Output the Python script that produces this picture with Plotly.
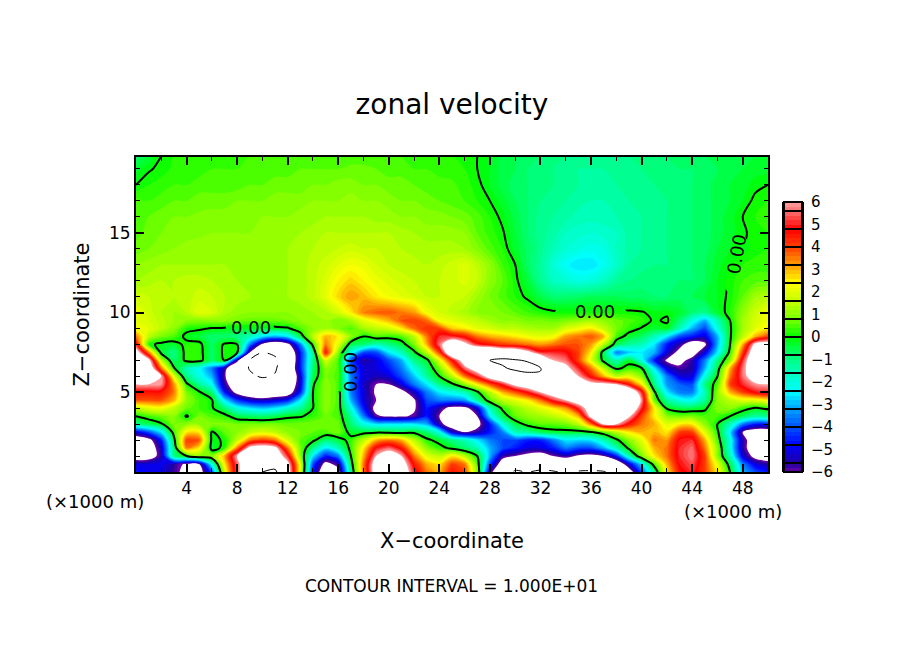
import numpy as np
import plotly.graph_objects as go

x_km = list(range(51))
z_km = [0, 0.5, 1, 1.5, 2, 2.5, 3, 3.5, 4, 4.5, 5, 5.5, 6, 6.5, 7, 7.5, 8, 8.5, 9, 9.5, 10,
        11, 12, 13, 14, 15, 16, 17, 18, 19, 19.8]

u_z00 = [-4.5,-4.8,-5,-5.6,-6.5,-6.8,-4,1.8,5.5,8,10,10.5,7,2,-4.5,-7.5,-6.5,-1,3.5,7,8,7.5,5,3.5,3,4.5,4,1,-5.5,-8,-10.5,-10,-10.5,-10.3,-9.5,-10.2,-10.3,-10.2,-9,-7,-4,-1,2.5,4.5,5,4,2.5,0,-3,-4,-4.5]
u_z05 = [-5,-5,-4.8,-5.5,-6.2,-6,-2,2.5,5.5,8,9.5,9,6.5,2,-4,-6.5,-5.5,-0.5,3.5,7,8,7,4.5,3,2.5,4,3.5,0.5,-4,-7,-8,-8.5,-8.5,-8,-8,-8.5,-8.5,-8,-7.5,-5,-2.5,0.5,3,4.8,5.3,4,2,-0.5,-3.5,-5,-5.5]
u_z10 = [-7,-6.8,-5.5,-1,0,1,0.8,3,6,8,8,7.5,5,1,-2.5,-4.5,-3.5,0,3,6,7,6,3.5,2,1.5,2.5,1.5,0,-3,-5.5,-6,-6.5,-6.8,-6,-5.5,-6.2,-6.5,-6,-4.5,-1.5,0.8,2.5,3.5,5,5.6,4,1,-1.5,-5,-6.5,-6.8]
u_z15 = [-7.5,-7,-5.2,-0.8,3.5,2.5,-0.3,0.2,3.5,6.5,7,6.5,3.5,0.8,-1,-2.5,-1.5,0.3,2.5,4.8,5.5,4.5,2.5,1,0.3,-0.2,-0.8,-1.5,-3,-4,-4.5,-5,-5,-4.5,-3.5,-4,-4,-3,-1.5,0.2,1.5,3,3.5,5,5.5,3.5,1,-2,-5.5,-7,-7.5]
u_z20 = [-7,-6.5,-4.5,-0.3,4,3.8,-0.2,0.1,1.5,3.5,4,3.5,1.8,0.6,0.2,-0.8,-0.4,0.3,1.5,3,3.5,3,1.5,0.2,-0.3,-1,-1.5,-2.5,-3.5,-4,-4,-4.5,-4.5,-3.5,-2.5,-2.6,-2.5,-1.5,-0.2,1,2,3.5,3.2,4.8,5,3,0.5,-2,-5.5,-7,-7.5]
u_z25 = [-5,-4,-2.5,0.4,2.5,2.5,-0.1,0.6,1,1.5,1.8,1.5,1,0.8,0.6,0.5,0.8,-0.3,-0.3,-0.2,-0.3,-0.4,-0.2,-0.8,-2,-5,-6,-5.5,-4.5,-3.5,-1.5,-1.2,-0.6,-0.3,-0.3,-0.3,-0.1,0.5,1.5,2.5,3,3,2.5,4,4,2,0.2,-2.5,-6,-7,-7]
u_z30 = [-1,-0.6,-0.1,0.8,1,1,0.9,0.9,0.8,0.8,0.8,0.8,0.7,0.8,0.8,0.8,0.7,-0.8,-2,-2.5,-2.5,-2.5,-2.5,-3,-5.5,-7,-7.5,-6.5,-4.5,-2,-0.5,0.3,0.6,0.6,0.8,1.5,3.5,6.2,6,4.5,3.5,3,2,2.5,2.5,1,0,-1.5,-3.5,-4.5,-4.5]
u_z35 = [0,0.4,0.7,1,-0.1,0.8,0.5,0.3,-0.5,-0.7,-0.8,-0.6,-0.2,-0.1,0.3,0.7,0.5,-1.2,-3.5,-5.8,-6.2,-6.2,-5.8,-4.5,-6,-7.5,-7.5,-6,-2.5,-0.5,0.6,1,1.2,1.5,2,3,6.5,8,8,6.2,4,2.5,1,0.7,0.8,0.5,0.4,0,-0.6,-1.2,-1]
u_z40 = [1.5,2,2.2,1.5,0.7,0.4,0.1,-0.8,-2,-2.5,-2.8,-2.5,-1.8,-1.2,0,1,0.4,-2,-4.5,-6.5,-7.2,-7.2,-6.2,-4.5,-5.5,-6.5,-6.5,-5,-1.5,0.2,1,1.5,2,2.5,3.2,5,7,8.5,8.5,8,5,2.5,-0.1,-0.5,-0.5,-0.2,1,1,0.3,-0.1,0.2]
u_z45 = [3.8,3.8,3.8,3,1,0.4,0.1,-2.5,-4.2,-5,-5.3,-5,-4.5,-2.5,0,1,0.5,-3,-5,-6,-7,-7.2,-6.2,-4,-3.5,-3.5,-3.2,-1.2,0.5,1.5,2,2.5,3.5,5,6,7,8,8.8,9,8.5,5.8,0.7,-1.2,-2,-2.2,-1.2,1,1.5,2,2,2.5]
u_z50 = [4.5,4.5,4.5,3.5,0.8,0.1,-0.8,-4.5,-6.5,-7.5,-8,-7.5,-7,-4.5,0,1,0.5,-3.5,-5,-6.2,-7,-6.5,-5.2,-3.5,-2.5,-2,-1.5,-0.2,1.5,3,3.8,4.8,6,7,7.8,8,8.2,9,8.5,8,5,0.2,-2.5,-3.5,-3.5,-1.5,1,3,4,4.8,5]
u_z55 = [6,6,5.8,3.2,0.2,-1.2,-2.2,-5.5,-7.2,-8,-8.5,-8.2,-7.8,-5,-0.1,1,0.5,-3.5,-5.2,-6,-6,-5,-3.5,-2.5,-1,-0.2,1,2.5,3.8,5,6.5,7.2,7.8,8.2,8.5,8,6.5,6.5,6,4.5,2.5,-1,-3.2,-3.8,-4,-1,0.5,4,5,5.8,6]
u_z60 = [7,7,6,2,-1,-2,-3,-5.8,-8,-9.5,-10.3,-9.8,-8.5,-5,-0.5,0.8,0.5,-3.5,-5,-5.3,-5,-4,-2.8,-1.2,0,1.5,3.5,5,6.8,7.8,8.5,9.2,9.8,8,7,6,4.5,3,1.5,2,1,-1.5,-3.5,-5,-5,-2,0,3.5,5.5,7,7]
u_z65 = [8,7.5,3.5,0.1,-1.5,-2.2,-3.5,-5.5,-8,-10.2,-11.5,-10.3,-8,-4.5,-0.8,1,0.5,-3.8,-5,-5,-4.5,-3.5,-2,-0.8,0.8,3,5.5,7,8.5,9.7,10.5,10.8,10.1,8,6.5,5,3.5,1.5,-0.2,0.3,0.1,-2.5,-5,-5.7,-5.5,-3,-0.5,3,5.5,7.5,7.5]
u_z70 = [8,6.5,1.5,-0.8,0.2,0.3,-0.8,0.1,-5.5,-10.1,-11.5,-10.5,-8.5,-4.5,-1,1.8,0.5,-4,-5.5,-5,-4,-3,-1,-0.3,2,4.5,7,8.5,10,10.5,10.2,9.8,8.5,6,5.5,4,2,-0.3,-1.5,-0.3,-2,-4.5,-6.2,-6.5,-5.5,-3.5,-1,1,5,8,8]
u_z75 = [7,3.5,-0.3,-1,0.3,0.3,-0.8,0.2,0.1,-6,-10.1,-9.5,-8,-4.5,-1,4.5,1,-2,-4,-4,-2.5,-1.5,-0.2,1.5,4,8,8.5,9,9,8,7.8,6.5,5,5,4.8,4,2.5,-0.5,-3.5,-2.8,-2.5,-3,-5,-6.5,-6.8,-5,-2.5,0.3,4,7.5,8]
u_z80 = [5,0.2,-0.2,-0.3,0.2,0.2,-0.7,0.1,0,-3.5,-6.3,-7.5,-6.5,-3.5,0.3,3.5,2,-0.5,-0.8,-1.5,-1,-0.4,0.8,3,5.5,7.5,6.5,5,4.5,4,3.8,3.5,3.2,3.5,3.8,3.8,3.2,1.5,-0.5,-1.2,-1.5,-2.5,-4.5,-5.5,-7,-6.3,-3,0,3,6.5,7]
u_z85 = [3.5,1.5,0.8,0.5,-0.2,-0.4,-0.8,-0.8,-1,-1.5,-2.5,-3,-2.5,-0.5,1.5,3,2.5,1,0,0.5,0.3,0.5,1.5,3.5,5,5,4.5,3.5,3,2.8,2.5,2.2,2,2.2,3.2,3.5,3.8,3,0.4,-0.3,-0.7,-1.5,-2.5,-4,-4.5,-5,-3,-0.1,1.5,3,4]
u_z90 = [2.2,2,1.5,1,0.2,0.1,-0.05,-0.1,-0.2,-0.2,-0.3,-0.2,-0.1,0.5,1,1.2,0.9,0.5,1.2,1.5,1.8,2.5,3.6,4.2,4,2.8,2.5,2,1.8,1.5,1.5,1.3,1.2,1.2,1.8,2.2,2.5,1.6,0.8,0.3,-0.05,-0.3,-0.2,-1.5,-3,-4,-2,-0.1,1.2,2,2.5]
u_z95 = [2,1.8,1.5,1.2,1,0.9,1,1,0.8,0.7,0.7,0.7,0.8,1,1.2,1.2,0.8,1.2,2,2.5,3,3.8,4,3.6,2.2,2,1.7,1.5,1.2,1,1,0.8,0.8,0.7,0.8,1,1.2,1,0.7,0.5,0.3,-0.1,0.1,-0.8,-2,-3,-1.5,0,1.2,1.8,2.2]
u_z100 = [2.2,1.7,1.4,1.2,1.4,2,1.8,1.3,1.1,1,1,1,1,1.1,1.2,1.3,1.8,2.5,3.4,3.7,3.8,3.5,3.2,2.2,1.8,1.5,1.3,1,0.9,0.8,0.6,0.4,0.2,0.1,0.05,0.05,0.05,0.05,0.1,0.1,0.05,-0.15,-0.1,-0.3,-0.8,-1,-0.3,0.2,1,1.7,2.2]
u_z110 = [1.7,1.6,1.5,1.4,1.5,1.7,1.6,1.4,1.3,1.2,1.2,1.2,1.2,1.3,1.5,2,2.7,3.2,2.9,2.5,2.2,2,1.8,1.6,1.6,1.7,1.6,1.2,0.8,0.5,0.2,-0.1,-0.5,-0.8,-0.8,-0.7,-0.6,-0.6,-0.6,-0.7,-0.7,-0.8,-0.8,-0.7,-0.6,-0.4,-0.2,0.1,0.6,1.2,1.4]
u_z120 = [1.2,1.3,1.4,1.4,1.5,1.5,1.4,1.3,1.2,1.1,1.1,1.1,1.2,1.3,1.5,1.9,2.4,2.7,2.4,2.1,1.9,1.7,1.6,1.5,1.6,1.7,1.9,1.6,1,0.6,0.1,-0.4,-1.1,-1.6,-1.8,-2,-1.9,-1.6,-1.2,-1,-0.9,-0.8,-0.8,-0.8,-0.8,-0.6,-0.2,0.1,0.4,0.5,0.5]
u_z130 = [1,1.1,1.2,1.2,1.2,1.2,1.2,1.2,1.2,1.2,1.2,1.2,1.2,1.3,1.5,1.7,2,2.2,2.1,1.8,1.6,1.5,1.5,1.4,1.5,1.7,1.9,1.5,1,0.4,0,-0.7,-1.2,-1.8,-2.3,-2.6,-2.6,-2.2,-1.7,-1.2,-1.1,-1,-1,-0.9,-0.8,-0.6,-0.3,0,0.2,0.3,0.3]
u_z140 = [0.7,0.8,0.9,1,1.1,1.1,1.1,1.1,1.1,1.2,1.2,1.2,1.2,1.3,1.4,1.5,1.6,1.7,1.6,1.6,1.5,1.4,1.3,1.3,1.3,1.3,1.2,0.9,0.5,0.2,-0.3,-0.7,-1.1,-1.5,-1.8,-2,-2.1,-2,-1.6,-1.3,-1.2,-1.1,-1,-0.9,-0.8,-0.7,-0.4,-0.2,-0.1,0.1,0.2]
u_z150 = [0.5,0.7,0.8,0.9,0.9,0.95,1,1,1,1,1.1,1.1,1.1,1.2,1.3,1.4,1.4,1.4,1.4,1.4,1.4,1.3,1.2,1.1,1.1,1.1,1,0.6,0.3,0.05,-0.4,-0.8,-1.1,-1.3,-1.6,-1.7,-1.8,-1.7,-1.6,-1.3,-1.2,-1.1,-1,-0.9,-0.8,-0.7,-0.5,-0.3,-0.05,0.1,0.2]
u_z160 = [0.5,0.6,0.7,0.8,0.8,0.85,0.9,0.9,0.9,0.9,1,1,1,1.1,1.1,1.2,1.2,1.2,1.2,1.1,1.1,1,1,0.9,0.9,0.8,0.7,0.5,0.2,-0.1,-0.5,-0.8,-1.1,-1.2,-1.3,-1.5,-1.5,-1.5,-1.4,-1.3,-1.2,-1.1,-1,-0.9,-0.8,-0.7,-0.5,-0.3,0,0.2,0.3]
u_z170 = [0.5,0.4,0.5,0.6,0.6,0.7,0.7,0.7,0.8,0.8,0.8,0.9,0.9,0.9,1,1,1,1.1,1,1,0.9,0.8,0.8,0.7,0.6,0.5,0.4,0.2,0,-0.3,-0.6,-0.8,-1,-1.1,-1.2,-1.3,-1.4,-1.4,-1.3,-1.2,-1.1,-1,-1,-0.9,-0.8,-0.7,-0.5,-0.4,-0.2,0.1,0.2]
u_z180 = [0,0.2,0.3,0.4,0.4,0.5,0.5,0.5,0.5,0.6,0.6,0.7,0.7,0.7,0.8,0.8,0.9,0.9,0.8,0.8,0.7,0.7,0.6,0.5,0.5,0.45,0.3,0.1,-0.2,-0.5,-0.7,-0.8,-0.9,-1,-1.1,-1.2,-1.3,-1.3,-1.2,-1.1,-1,-1,-0.9,-0.9,-0.8,-0.7,-0.5,-0.4,-0.3,-0.1,0]
u_z190 = [-0.3,-0.05,0.1,0.25,0.3,0.3,0.4,0.4,0.4,0.5,0.5,0.5,0.5,0.6,0.6,0.6,0.6,0.65,0.65,0.6,0.5,0.5,0.4,0.4,0.3,0.3,0.2,0,-0.2,-0.5,-0.6,-0.8,-0.9,-1,-1.1,-1.2,-1.2,-1.2,-1.1,-1,-1,-0.9,-0.9,-0.8,-0.8,-0.7,-0.6,-0.5,-0.4,-0.3,-0.3]
u_z198 = [-0.8,-0.4,0,0.2,0.2,0.3,0.3,0.3,0.3,0.4,0.4,0.4,0.5,0.5,0.5,0.5,0.5,0.5,0.5,0.5,0.5,0.4,0.3,0.3,0.2,0.2,0.1,0,-0.2,-0.5,-0.6,-0.7,-0.8,-0.9,-1,-1.1,-1.1,-1.1,-1,-1,-0.9,-0.9,-0.8,-0.7,-0.7,-0.6,-0.5,-0.5,-0.4,-0.4,-0.3]

u_rows = [u_z00, u_z05, u_z10, u_z15, u_z20, u_z25, u_z30, u_z35, u_z40, u_z45, u_z50,
          u_z55, u_z60, u_z65, u_z70, u_z75, u_z80, u_z85, u_z90, u_z95, u_z100,
          u_z110, u_z120, u_z130, u_z140, u_z150, u_z160, u_z170, u_z180, u_z190, u_z198]

# stops of the rainbow shown in the colour bar
color_values = [-6, -5.6, -4.8, -4, -3.2, -2.4, -1.6, -0.8, 0, 0.8, 1.6, 2.4, 3.2, 4, 4.8, 5.6, 6]
color_hex = ["#6a00a8", "#2000a0", "#0000ff", "#0050ff", "#00a0ff", "#00ffff", "#00ffc0",
             "#00ff70", "#00ff00", "#78ff00", "#c4ff00", "#ffff00", "#ffa000", "#ff4000",
             "#ff0000", "#ff7070", "#ffa0a0"]
bar_edges = [-5.6, -4.8, -4, -3.2, -2.4, -1.6, -0.8, 0, 0.8, 1.6, 2.4, 3.2, 4, 4.8, 5.6]
bar_ticks = [-6, -5, -4, -3, -2, -1, 0, 1, 2, 3, 4, 5, 6]

zlo, zhi = -6.2, 6.2
colorscale = [[0, "#ffffff"], [(-6.02 - zlo) / (zhi - zlo), "#ffffff"]]
colorscale += [[(v - zlo) / (zhi - zlo), c] for v, c in zip(color_values, color_hex)]
colorscale += [[(6.02 - zlo) / (zhi - zlo), "#ffffff"], [1, "#ffffff"]]

u = np.array(u_rows, dtype=float)
xs = np.array(x_km)
zs = np.array(z_km)

# the zero line is broken where its labels sit
u_line = u.copy()
for x0, x1, z0, z1 in [(8, 10, 9, 9.5), (34, 38, 10, 10), (16, 17, 5.5, 7), (47, 48, 12, 14)]:
    u_line[np.ix_((zs >= z0) & (zs <= z1), (xs >= x0) & (xs <= x1))] = np.nan

fig = go.Figure()
fig.add_trace(go.Contour(
    x=x_km, y=z_km, z=u, zmin=zlo, zmax=zhi, colorscale=colorscale, showscale=False,
    autocontour=False, contours=dict(start=-6, end=6, size=0.2, coloring="fill"),
    line=dict(width=0), hoverinfo="skip",
))
for level, width, dash, field in [(0, 2, "solid", u_line), (10, 1, "solid", u), (-10, 1, "dash", u)]:
    fig.add_trace(go.Contour(
        x=x_km, y=z_km, z=field, showscale=False, autocontour=False,
        contours=dict(start=level, end=level, size=1, coloring="none"),
        line=dict(color="black", width=width, dash=dash), hoverinfo="skip",
    ))

bar_levels = [round(-5.9 + 0.2 * i, 1) for i in range(60)]
fig.add_trace(go.Heatmap(
    x=[0], y=bar_levels, z=[[v] for v in bar_levels], zmin=zlo, zmax=zhi,
    colorscale=colorscale, showscale=False, xaxis="x2", yaxis="y2", hoverinfo="skip",
))
for edge in bar_edges:
    fig.add_shape(type="line", xref="x2 domain", yref="y2", x0=0, x1=1, y0=edge, y1=edge,
                  line=dict(color="black", width=2))

FONT = "DejaVu Sans"
W = 694.0
fig.update_layout(
    width=904, height=654, margin=dict(l=136, r=74, t=157, b=182, pad=0),
    paper_bgcolor="white", plot_bgcolor="white", showlegend=False,
    font=dict(family=FONT, color="black", size=17),
    title=dict(text="zonal velocity", x=452 / 904, xanchor="center", y=1 - 104 / 654,
               yanchor="middle", font=dict(size=28)),
    xaxis=dict(domain=[0, 632 / W], range=[0, 50], tickvals=list(range(4, 49, 4)), ticks="inside",
               ticklen=8, tickwidth=2, tickcolor="black", showline=True, linewidth=2, linecolor="black",
               mirror="allticks", showgrid=False, zeroline=False, tickangle=0,
               minor=dict(tickvals=list(range(2, 50, 4)), ticks="inside", ticklen=4, tickcolor="black", tickwidth=1),
               title=dict(text="X\u2212coordinate", font=dict(size=21), standoff=36)),
    yaxis=dict(domain=[0, 1], range=[0, 19.75], tickvals=[5, 10, 15], ticks="inside", ticklen=8,
               tickwidth=2, tickcolor="black", showline=True, linewidth=2, linecolor="black",
               mirror="allticks", showgrid=False, zeroline=False,
               minor=dict(tickvals=[v for v in range(1, 20) if v % 5], ticks="inside", ticklen=4, tickcolor="black", tickwidth=1),
               title=dict(text="Z\u2212coordinate", font=dict(size=21), standoff=14)),
    xaxis2=dict(domain=[648 / W, 666 / W], range=[-0.5, 0.5], visible=False, anchor="y2"),
    yaxis2=dict(domain=[0, 270 / 315], range=[-6, 6], side="right", anchor="x2", tickvals=bar_ticks,
                ticks="", showline=True, linewidth=2, linecolor="black", mirror=True, showgrid=False,
                zeroline=False, tickfont=dict(size=15), ticklabelstandoff=4),
)
fig.add_shape(type="rect", xref="x2 domain", yref="y2 domain", x0=0, x1=1, y0=0, y1=1,
              line=dict(color="black", width=2))


def note(text, px, py, size=16, angle=0):
    fig.add_annotation(text=text, xref="paper", yref="paper", x=(px - 136) / W, y=(472 - py) / 315,
                       showarrow=False, textangle=angle, font=dict(size=size), xanchor="center", yanchor="middle")


note("(\u00d71000 m)", 95, 501, 18)
note("(\u00d71000 m)", 733, 511, 18)
note("CONTOUR INTERVAL = 1.000E+01", 451, 586, 17)
note("0.00", 251, 327, 18)
note("0.00", 595, 311, 18)
note("0.00", 350, 372, 18, -90)
note("0.00", 736, 254, 18, -80)

# page has a default 8px body margin, drop it so the figure sits at the window corner
fig.write_html("out.html", config={"displayModeBar": False}, post_script="document.body.style.margin='0';")
